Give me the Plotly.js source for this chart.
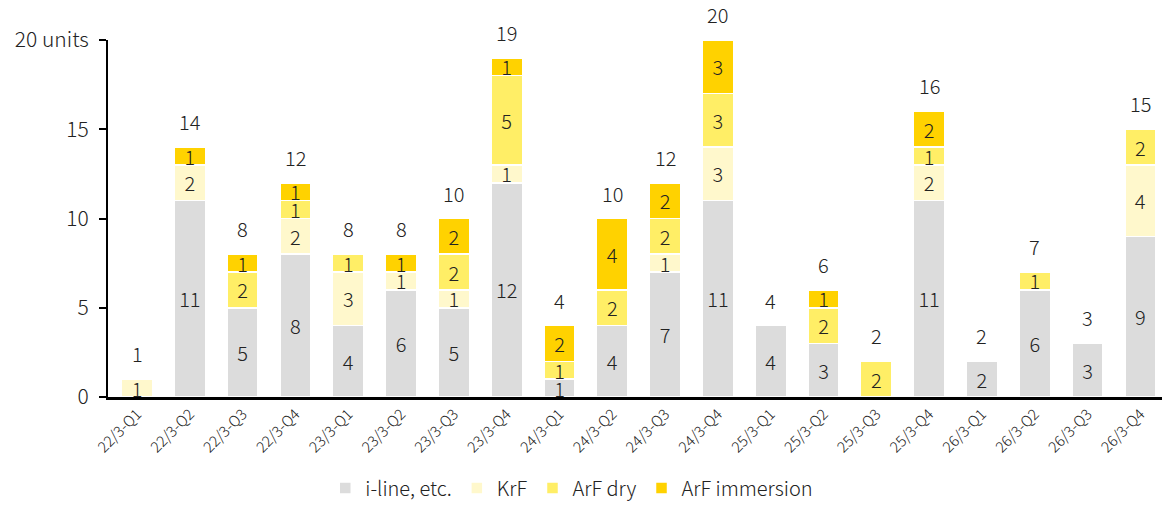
<!DOCTYPE html>
<html><head><meta charset="utf-8">
<script src="https://cdn.plot.ly/plotly-3.0.1.min.js"></script>
<style>html,body{margin:0;padding:0;background:#fff}#c{width:1162px;height:506px}</style>
</head><body><div id="c"></div>
<script>
const categories = ["22/3-Q1","22/3-Q2","22/3-Q3","22/3-Q4","23/3-Q1","23/3-Q2","23/3-Q3","23/3-Q4","24/3-Q1","24/3-Q2","24/3-Q3","24/3-Q4","25/3-Q1","25/3-Q2","25/3-Q3","25/3-Q4","26/3-Q1","26/3-Q2","26/3-Q3","26/3-Q4"];
const iline  = [0,11,5,8,4,6,5,12,1,4,7,11,4,3,0,11,2,6,3,9];
const krf    = [1,2,0,2,3,1,1,1,0,0,1,3,0,0,0,2,0,0,0,4];
const arfDry = [0,0,2,1,1,0,2,5,1,2,2,3,0,2,2,1,0,1,0,2];
const arfImm = [0,1,1,1,0,1,2,1,2,4,2,3,0,1,0,2,0,0,0,0];
const seriesNames = ["i-line, etc.","KrF","ArF dry","ArF immersion"];
const yTickVals = [0,5,10,15,20];
const yTickText = ["0","5","10","15","20 units"];

const colors = ["#dcdcdc","#fff8cc","#ffee66","#ffd200"];
const FONT = "'Noto Sans CJK JP', 'Noto Sans', sans-serif";
const allSeries = [iline, krf, arfDry, arfImm];
const traces = allSeries.map((vals, i) => ({
  type: 'bar',
  name: seriesNames[i],
  x: categories,
  y: vals,
  text: vals.map(v => v > 0 ? String(v) : ''),
  textposition: 'inside',
  insidetextanchor: 'middle',
  constraintext: 'none',
  textangle: 0,
  textfont: {family: FONT, size: 20, color: '#222222', weight: 300},
  marker: {color: colors[i], line: {color: '#ffffff', width: 1.5}},
  cliponaxis: false,
  hoverinfo: 'skip'
}));
const totals = categories.map((c, k) => allSeries.reduce((s, a) => s + a[k], 0));
const annotations = categories.map((c, k) => ({
  x: c, y: totals[k], xref: 'x', yref: 'y',
  text: String(totals[k]), showarrow: false,
  yanchor: 'bottom', yshift: 9,
  font: {family: FONT, size: 20, color: '#222222', weight: 300}
}));
const layout = {
  width: 1162, height: 506,
  margin: {l: 108, r: 0, t: 40, b: 109, autoexpand: false},
  barmode: 'stack',
  bargap: 0.41,
  paper_bgcolor: '#fff', plot_bgcolor: '#fff',
  showlegend: true,
  legend: {orientation: 'h', x: 0.44, xanchor: 'center', y: -0.255, yanchor: 'middle',
    font: {family: FONT, size: 20, color: '#222222', weight: 300}, traceorder: 'normal'},
  xaxis: {
    type: 'category', range: [-0.55, 19.41], automargin: false,
    showline: true, linecolor: '#000', linewidth: 2.5,
    ticks: '', tickangle: -45,
    tickfont: {family: FONT, size: 15, color: '#222222', weight: 300},
    showgrid: false, zeroline: false, fixedrange: true
  },
  yaxis: {
    range: [0, 20], automargin: false,
    tickvals: yTickVals, ticktext: yTickText,
    showline: true, linecolor: '#000', linewidth: 2,
    ticks: 'outside', ticklen: 7, tickcolor: '#000', tickwidth: 2,
    ticklabelstandoff: 6,
    tickfont: {family: FONT, size: 21, color: '#222222', weight: 300},
    showgrid: false, zeroline: false, fixedrange: true
  },
  annotations: annotations
};
Plotly.newPlot('c', traces, layout, {displayModeBar: false, staticPlot: true});
</script></body></html>
